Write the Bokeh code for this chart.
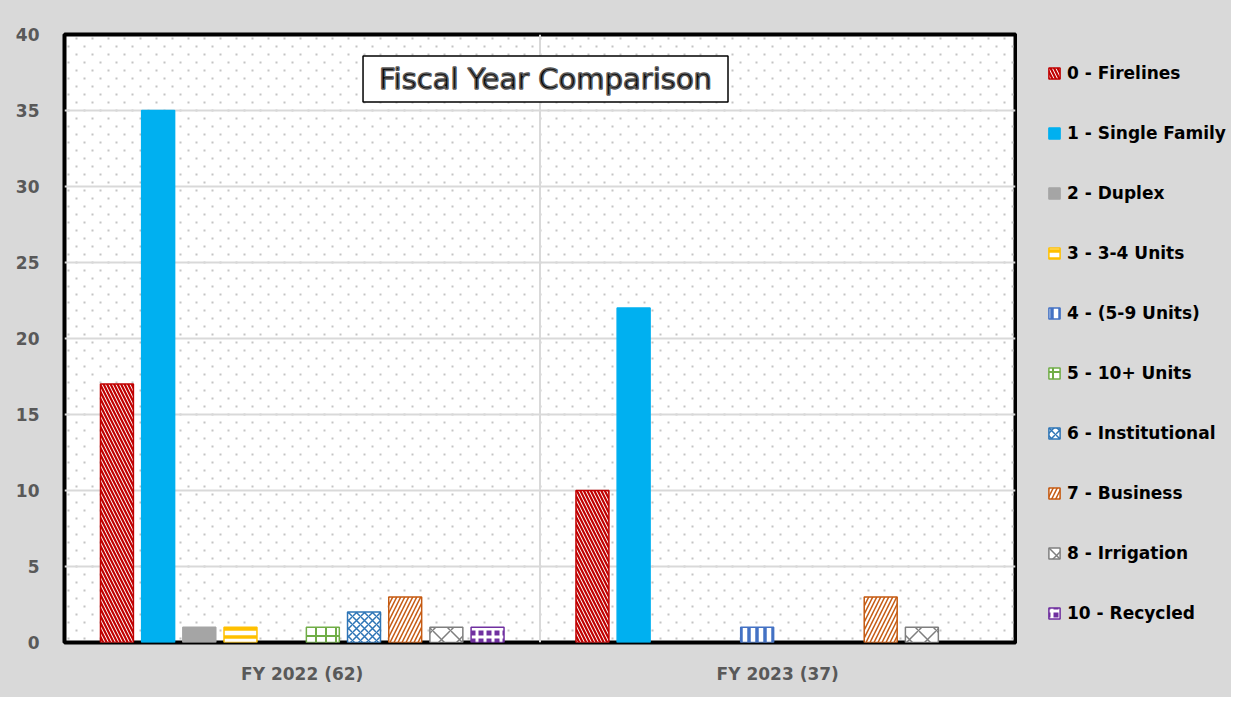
import numpy as np
from bokeh.plotting import figure
from bokeh.layouts import row
from bokeh.models import (FactorRange, Range1d, Legend, LegendItem, Label, Span,
                          FixedTicker, ColumnDataSource)
from bokeh.transform import dodge
from bokeh.embed import file_html
from bokeh.resources import INLINE

# ---- data ----
years = ["FY 2022 (62)", "FY 2023 (37)"]
series_names = ["0 - Firelines", "1 - Single Family", "2 - Duplex", "3 - 3-4 Units",
                "4 - (5-9 Units)", "5 - 10+ Units", "6 - Institutional", "7 - Business",
                "8 - Irrigation", "10 - Recycled"]
firelines = [17, 10]
single_family = [35, 22]
duplex = [1, 0]
units_3_4 = [1, 0]
units_5_9 = [0, 1]
units_10_plus = [1, 0]
institutional = [2, 0]
business = [3, 3]
irrigation = [1, 1]
recycled = [1, 0]
series_values = [firelines, single_family, duplex, units_3_4, units_5_9,
                 units_10_plus, institutional, business, irrigation, recycled]
y_ticks = [0, 5, 10, 15, 20, 25, 30, 35, 40]
title_text = "Fiscal Year Comparison"

# ---- styles ----
styles = [
    dict(line="#C00000", fill="white", hatch="\\", hcolor="#C00000", hscale=7, hweight=2.2),
    dict(line="#00B0F0", fill="#00B0F0", hatch=" ", hcolor="#00B0F0", hscale=8, hweight=1),
    dict(line="#A5A5A5", fill="#A5A5A5", hatch=" ", hcolor="#A5A5A5", hscale=8, hweight=1),
    dict(line="#FFC000", fill="white", hatch="-", hcolor="#FFC000", hscale=8, hweight=3.5),
    dict(line="#4472C4", fill="white", hatch="|", hcolor="#4472C4", hscale=8, hweight=3.5),
    dict(line="#70AD47", fill="white", hatch="+", hcolor="#70AD47", hscale=10, hweight=2),
    dict(line="#2E75B6", fill="white", hatch="x", hcolor="#2E75B6", hscale=8, hweight=1.5),
    dict(line="#C55A11", fill="white", hatch="/", hcolor="#C55A11", hscale=8, hweight=1.5),
    dict(line="#7F7F7F", fill="white", hatch="x", hcolor="#7F7F7F", hscale=18, hweight=1.5),
    dict(line="#7030A0", fill="#7030A0", hatch="+", hcolor="white", hscale=8, hweight=3),
]

label_font = "DejaVu Sans"
bg = "#D9D9D9"
frame_w, frame_h = 951, 608

p = figure(width=1017, height=697, output_backend="svg", toolbar_location=None,
           x_range=FactorRange(*years, range_padding=0, factor_padding=0),
           y_range=Range1d(0, 40),
           min_border_left=64, min_border_right=2, min_border_top=34, min_border_bottom=55)

p.background_fill_color = "white"
p.border_fill_color = bg
p.outline_line_color = "black"
p.outline_line_width = 4

# dotted plot-area texture (decoration, 16px x 8px offset lattice)
dx = 2.0 / frame_w * 16
dy = 40.0 / frame_h * 8
gx, gy = [], []
for j, yy in enumerate(np.arange(dy / 2, 40, dy)):
    xs = np.arange(dx / 4 + (dx / 2 if j % 2 else 0), 2, dx)
    gx.extend(xs.tolist())
    gy.extend([float(yy)] * len(xs))
p.scatter(gx, gy, marker="square", size=2, fill_color="#C4C4C4", line_color=None,
          level="underlay")

p.xgrid.visible = False
p.ygrid.grid_line_color = "#D9D9D9"
p.ygrid.grid_line_width = 2
p.yaxis.ticker = FixedTicker(ticks=y_ticks)
p.add_layout(Span(location=1, dimension="height", line_color="#D9D9D9", line_width=2,
                  level="underlay"))

for ax in (p.xaxis[0], p.yaxis[0]):
    ax.axis_line_color = None
    ax.major_tick_line_color = None
    ax.minor_tick_line_color = None
    ax.major_label_text_font = label_font
    ax.major_label_text_font_style = "bold"
    ax.major_label_text_font_size = "17px"
    ax.major_label_text_color = "#595959"
p.yaxis.major_label_standoff = 19
p.xaxis.major_label_standoff = 15

# legend panel as its own small figure (its renderers are hidden, only swatches show)
pl = figure(width=214, height=697, output_backend="svg", toolbar_location=None,
            x_range=FactorRange(*years, range_padding=0, factor_padding=0),
            y_range=Range1d(0, 40),
            x_axis_location=None, y_axis_location=None,
            min_border_left=0, min_border_right=0, min_border_top=0, min_border_bottom=0)
pl.background_fill_color = bg
pl.border_fill_color = bg
pl.outline_line_color = None
pl.grid.visible = False

n = len(series_names)
slot = 0.0866
bar_w = 0.0693
items = []
for i, (name, vals, st) in enumerate(zip(series_names, series_values, styles)):
    keep = [k for k, v in enumerate(vals) if v > 0]
    src = ColumnDataSource(dict(fy=[years[k] for k in keep], val=[vals[k] for k in keep]))
    off = (i - (n - 1) / 2) * slot
    kw = dict(fill_color=st["fill"], line_color=st["line"], line_width=1.5,
              hatch_pattern=st["hatch"], hatch_color=st["hcolor"],
              hatch_scale=st["hscale"], hatch_weight=st["hweight"])
    p.vbar(x=dodge("fy", off, range=p.x_range), top="val", bottom=0, width=bar_w,
           source=src, **kw)
    r2 = pl.vbar(x=dodge("fy", off, range=pl.x_range), top="val", bottom=0, width=bar_w,
                 source=src, visible=False, **kw)
    items.append(LegendItem(label=name, renderers=[r2]))

legend = Legend(items=items, location=(22, 11), margin=0, padding=8, spacing=40, ncols=1,
                glyph_width=14, glyph_height=14, label_height=20, label_standoff=6,
                label_text_font=label_font, label_text_font_style="bold",
                label_text_font_size="17px", label_text_color="black",
                inactive_fill_alpha=0,
                background_fill_alpha=0, border_line_alpha=0)
pl.add_layout(legend)

title = Label(x=1.0116, y=37.07, text=title_text, text_align="center", text_baseline="middle",
              text_font=label_font, text_font_size="29px", text_color="black",
              text_outline_color="#595959",
              background_fill_color="white", border_line_color="black", border_line_width=1.5,
              padding=dict(left=16, right=16, top=6, bottom=6))
p.add_layout(title)

layout = row(p, pl, spacing=0, styles={"background-color": bg})
open("out.html", "w").write(file_html(layout, INLINE))
